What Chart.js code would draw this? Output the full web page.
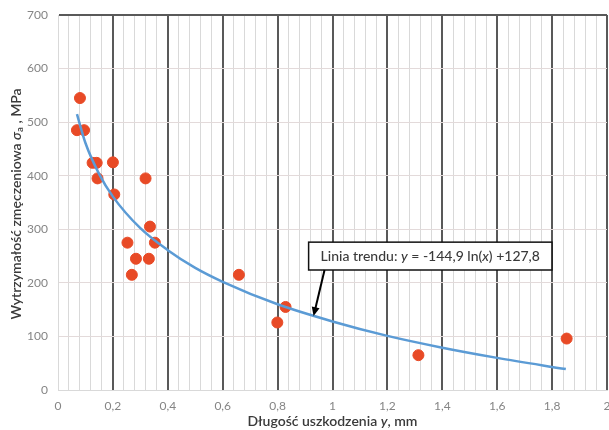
<!DOCTYPE html>
<html>
<head>
<meta charset="utf-8">
<script src="https://cdn.jsdelivr.net/npm/chart.js@4"></script>
<style>
body{margin:0;background:#fff}
</style>
</head>
<body>
<canvas id="myChart" width="609" height="430"></canvas>
<script>
// measured points
var pointX = [0.069, 0.095, 0.08, 0.126, 0.141, 0.144, 0.2, 0.205, 0.319, 0.335, 0.253, 0.353, 0.284, 0.331, 0.269, 0.659, 0.829, 0.799, 1.313, 1.853];
var pointY = [485, 485, 545, 424, 424, 395, 425, 365, 395, 305, 275, 275, 245, 245, 215, 215, 155, 126, 65, 96];

// trend line
var trendX = [0.069, 0.1, 0.15, 0.2, 0.3, 0.4, 0.5, 0.6, 0.8, 1.0, 1.2, 1.4, 1.6, 1.85];
var trendY = [515, 461, 403, 361, 302, 261, 228, 202, 160, 128, 101, 79, 60, 39];

var xTitle = [['Długość uszkodzenia ', false], ['y', true], [', mm', false]];
var yTitle = [['Wytrzymałość zmęczeniowa ', false], ['σ', true], ['a', false, true], [' , MPa', false]];
var trendLabel = [['Linia trendu: ', false], ['y', true], [' = -144,9 ln(', false], ['x', true], [') +127,8', false]];

var FONT = 'Lato, "Open Sans", sans-serif';

var scatterData = pointX.map((x, i) => ({x: x, y: pointY[i]}));
var trendData = trendX.map((x, i) => ({x: x, y: trendY[i]}));

function drawRich(ctx, parts, x, y, size, weight) {
  // returns total width; draws only if x != null
  var w = 0;
  for (var p of parts) {
    var sub = p[2];
    var fs = sub ? size * 0.7 : size;
    ctx.font = (p[1] ? 'italic ' : '') + weight + ' ' + fs + 'px ' + FONT;
    if (x !== null) ctx.fillText(p[0], x + w, y + (sub ? size * 0.3 : 0));
    w += ctx.measureText(p[0]).width;
  }
  return w;
}

var extras = {
  id: 'extras',
  afterDatasetsDraw(chart) {
    var ctx = chart.ctx;
    var xs = chart.scales.x, ys = chart.scales.y;
    var ca = chart.chartArea;
    ctx.save();
    ctx.textBaseline = 'middle';
    ctx.fillStyle = '#3a3a3a';

    // x title
    var w = drawRich(ctx, xTitle, null, 0, 14, '600');
    drawRich(ctx, xTitle, (ca.left + ca.right) / 2 - w / 2, 421, 14, '600');

    // y title
    ctx.save();
    ctx.translate(16, 0);
    ctx.rotate(-Math.PI / 2);
    w = drawRich(ctx, yTitle, null, 0, 14, '600');
    drawRich(ctx, yTitle, -204 - w / 2, 0, 14, '600');
    ctx.restore();

    // trend label box + arrow
    var bx = xs.getPixelForValue(0.913), by = ys.getPixelForValue(276);
    var bh = ys.getPixelForValue(224) - by;
    var tw = drawRich(ctx, trendLabel, null, 0, 14, '500');
    var bw = tw + 24;
    ctx.fillStyle = '#fff';
    ctx.fillRect(bx, by, bw, bh);
    ctx.strokeStyle = '#111';
    ctx.lineWidth = 1.5;
    ctx.strokeRect(bx, by, bw, bh);
    ctx.fillStyle = '#3a3a3a';
    drawRich(ctx, trendLabel, bx + 12, by + bh / 2, 14, '500');

    var ax0 = xs.getPixelForValue(0.971), ay0 = by + bh;
    var ax1 = xs.getPixelForValue(0.931), ay1 = ys.getPixelForValue(138);
    var ang = Math.atan2(ay1 - ay0, ax1 - ax0);
    ctx.strokeStyle = '#000';
    ctx.lineWidth = 2;
    ctx.beginPath();
    ctx.moveTo(ax0, ay0);
    ctx.lineTo(ax1 - 6 * Math.cos(ang), ay1 - 6 * Math.sin(ang));
    ctx.stroke();
    ctx.fillStyle = '#000';
    ctx.beginPath();
    ctx.moveTo(ax1, ay1);
    ctx.lineTo(ax1 - 9 * Math.cos(ang) + 4 * Math.sin(ang), ay1 - 9 * Math.sin(ang) - 4 * Math.cos(ang));
    ctx.lineTo(ax1 - 9 * Math.cos(ang) - 4 * Math.sin(ang), ay1 - 9 * Math.sin(ang) + 4 * Math.cos(ang));
    ctx.closePath();
    ctx.fill();
    ctx.restore();
  }
};

var noPad = () => ({left: 0, top: 0, right: 0, bottom: 0});

new Chart('myChart', {
  type: 'scatter',
  data: {
    datasets: [{
      type: 'line',
      label: 'trend',
      data: trendData,
      borderColor: '#5b9bd5',
      borderWidth: 2.5,
      pointRadius: 0,
      cubicInterpolationMode: 'monotone',
      fill: false
    }, {
      label: 'pomiary',
      data: scatterData,
      backgroundColor: '#e84a26',
      borderColor: '#e84a26',
      pointRadius: 5.5,
      pointHoverRadius: 5.5
    }]
  },
  options: {
    responsive: false,
    animation: false,
    layout: {autoPadding: false, padding: {top: 15, right: 2, left: 0, bottom: 0}},
    plugins: {legend: {display: false}, tooltip: {enabled: false}},
    scales: {
      x: {
        type: 'linear',
        min: 0, max: 2,
        afterFit(s) { s.height = 40; s.paddingLeft = 0; s.paddingRight = 0; s.getPadding = noPad; },
        border: {display: true, color: '#d9d9d9', width: 1},
        grid: {
          drawTicks: false,
          color: c => {
            var k = Math.round(c.tick.value * 100);
            if (k === 0) return '#d9d9d9';
            return k % 20 === 0 ? '#595959' : '#d9d9d9';
          },
          lineWidth: c => {
            var k = Math.round(c.tick.value * 100);
            return (k !== 0 && k % 20 === 0) ? 2 : 1;
          }
        },
        ticks: {
          stepSize: 0.04,
          autoSkip: false,
          maxRotation: 0,
          padding: 9,
          color: '#858585',
          font: {family: FONT, size: 12},
          callback: v => {
            var k = Math.round(v * 100);
            if (k % 20 !== 0) return '';
            return String(k / 100).replace('.', ',');
          }
        }
      },
      y: {
        min: 0, max: 700,
        afterFit(s) { s.width = 58; s.paddingTop = 0; s.paddingBottom = 0; s.getPadding = noPad; },
        border: {display: true, color: '#d9d9d9', width: 1},
        grid: {
          drawTicks: false,
          color: c => c.tick.value === 700 ? '#595959' : '#e3dada',
          lineWidth: c => c.tick.value === 700 ? 2 : 1
        },
        ticks: {
          stepSize: 100,
          padding: 10,
          color: '#858585',
          font: {family: FONT, size: 12}
        }
      }
    }
  },
  plugins: [extras]
});
</script>
</body>
</html>
